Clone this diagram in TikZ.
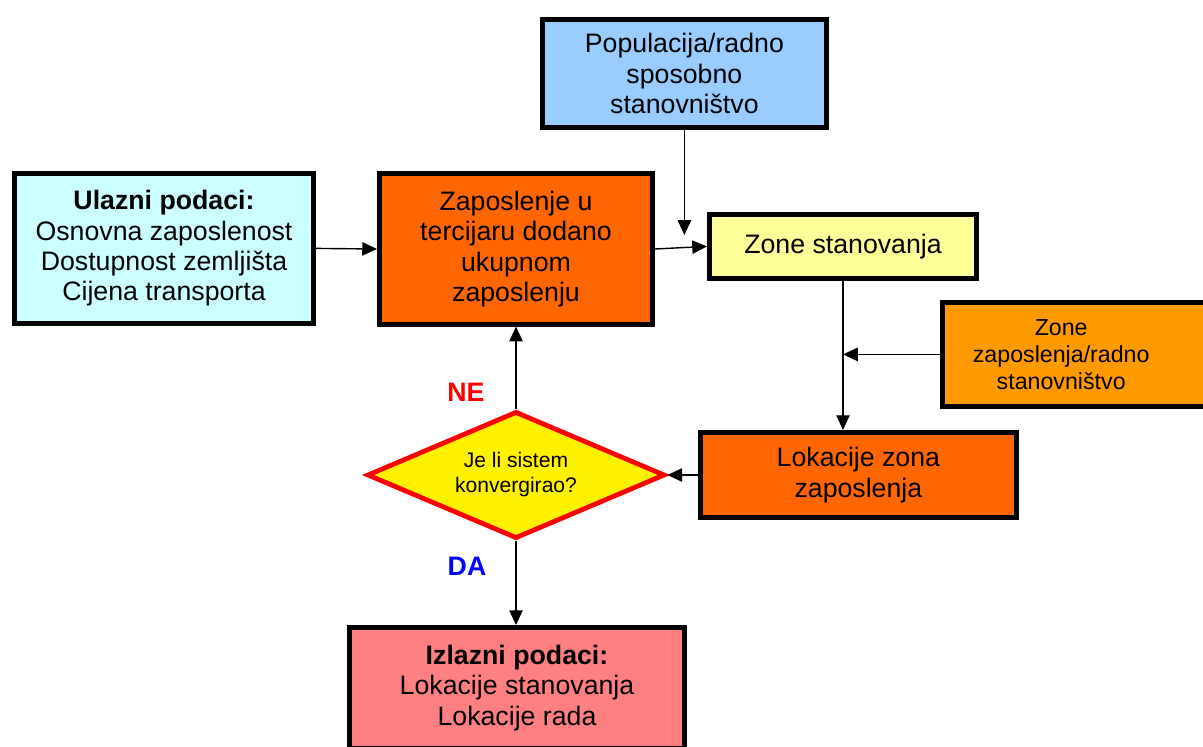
\documentclass[tikz,border=0pt]{standalone}
\usepackage{fontspec}
\setmainfont{Liberation Sans}
\usetikzlibrary{arrows.meta,shapes.geometric}

\definecolor{popblue}{HTML}{99CCFF}
\definecolor{inputcyan}{HTML}{CCFFFF}
\definecolor{deeporange}{HTML}{FF6600}
\definecolor{paleyellow}{HTML}{FFFF99}
\definecolor{lightorange}{HTML}{FF9900}
\definecolor{outputred}{HTML}{FF8080}

\begin{document}
\begin{tikzpicture}[line width = 1pt,
                        box/.style = {rectangle, draw, line width = 3.4pt, align = center, inner sep = 0pt,
                                      font = \fontsize{19}{21.5}\selectfont},
                        decision/.style = {diamond, aspect = 2.33, draw = red, fill = yellow, line width = 3.4pt,
                                           align = center, inner sep = 0pt, font = \fontsize{15}{17.8}\selectfont},
                        arr/.style = {-{Triangle[length = 10.5pt, width = 9.5pt]}},
                        answer/.style = {font = \fontsize{19}{21}\selectfont\bfseries}]
      \useasboundingbox (0, 0) rectangle (30.075, -18.675);
      \node [box, fill = popblue, minimum width = 7.11cm, minimum height = 2.71cm] (pop) at (17.11, -1.84)
            {Populacija/radno\\sposobno\\stanovništvo};
      \node [box, fill = inputcyan, minimum width = 7.48cm, minimum height = 3.76cm] (ulaz) at (4.1, -6.21)
            {\textbf{Ulazni podaci:}\\Osnovna zaposlenost\\Dostupnost zemljišta\\Cijena transporta};
      \node [box, fill = deeporange, minimum width = 6.83cm, minimum height = 3.76cm] (zap) at (12.9, -6.225)
            {Zaposlenje u\\tercijaru dodano\\ukupnom\\zaposlenju};
      \node [box, fill = paleyellow, minimum width = 6.68cm, minimum height = 1.61cm] (zstan) at (21.075, -6.16)
            {Zone stanovanja};
      \node [box, fill = lightorange, minimum width = 6.76cm, minimum height = 2.61cm,
             label = {[align = center, xshift = -0.41cm, font = \fontsize{16.5}{19.2}\selectfont]center:Zone\\zaposlenja/radno\\stanovništvo}]
            (zzap) at (26.94, -8.86) {};
      \node [box, fill = deeporange, minimum width = 7.91cm, minimum height = 2.13cm] (lok) at (21.46, -11.875)
            {Lokacije zona\\zaposlenja};
      \node [decision, minimum width = 7.45cm, minimum height = 3.18cm] (dia) at (12.9, -11.875)
            {Je li sistem\\konvergirao?};
      \node [box, fill = outputred, minimum width = 8.38cm, minimum height = 3.03cm] (izl) at (12.925, -17.2)
            {\textbf{Izlazni podaci:}\\Lokacije stanovanja\\Lokacije rada};
      \node [answer, text = red] (ne) at (11.65, -9.8) {NE};
      \node [answer, text = blue] (da) at (11.675, -14.15) {DA};
      \coordinate (popend) at (17.11, -5.875);
      % connectors
      \draw [arr] (pop.south) -- (popend);
      \draw [arr] (ulaz.east) -- (zap.west);
      \draw [arr] (zap.east) -- (zstan.west);
      \draw [arr] (zstan.south) -- (zstan.south |- lok.north);
      \draw [arr] (zzap.west) -- (zzap.west -| zstan.south);
      \draw [arr] (lok.west) -- (dia.east);
      \draw [arr] (dia.north) -- (dia.north |- zap.south);
      \draw [arr] (dia.south) -- (dia.south |- izl.north);
    \end{tikzpicture}
\end{document}
